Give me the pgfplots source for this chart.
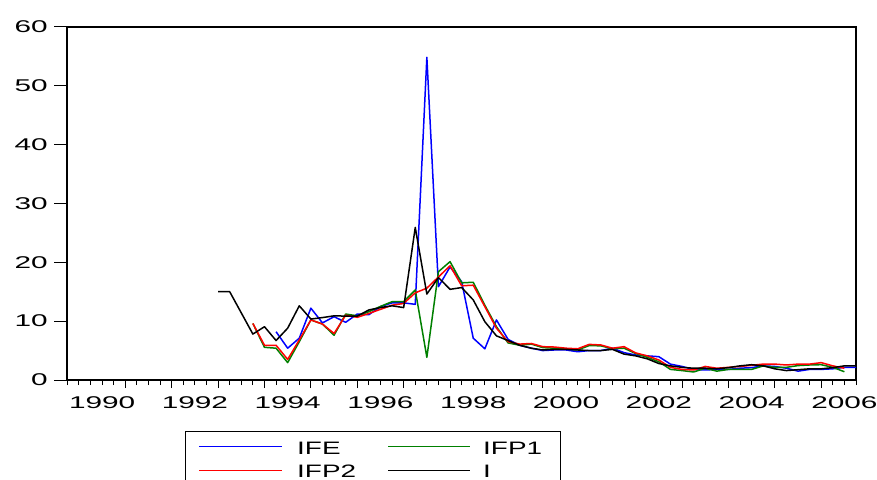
\documentclass[border=0pt]{standalone}
\usepackage{pgfplots}
\pgfplotsset{compat=1.18}
\usepackage{fontspec}
\setmainfont{Liberation Sans}
\usepackage{graphicx}

% EViews stretches its text horizontally
\newcommand{\wide}[1]{\scalebox{1.75}[1]{\fontsize{17}{17}\selectfont #1}}
\newcommand{\lwide}[1]{\scalebox{1.55}[1]{\fontsize{18}{18}\selectfont #1}}

\definecolor{evgreen}{RGB}{0,128,0}

% x = quarter index, 1 = 1990Q1
\pgfplotstableread{
q v
18 8.2
19 5.4
20 7.1
21 12.2
22 9.7
23 10.75
24 9.8
25 11.2
26 11.1
27 12.45
28 13.1
29 13.1
30 12.85
31 54.8
32 15.85
33 19.2
34 16.7
35 7.1
36 5.3
37 10.2
38 6.9
39 5.9
40 5.4
41 5.0
42 5.1
43 5.1
44 4.8
45 5.0
46 5.0
47 5.4
48 4.65
49 4.25
50 4.1
51 3.96
52 2.7
53 2.3
54 1.8
55 1.7
56 1.8
57 1.8
58 2.0
59 2.1
60 2.4
61 2.3
62 2.0
63 1.5
64 1.8
65 1.8
66 1.9
67 2.15
68 2.15
}\ife

\pgfplotstableread{
q v
16 9.6
17 5.55
18 5.4
19 2.95
20 6.5
21 10.2
22 9.5
23 7.6
24 11.2
25 10.9
26 11.6
27 12.5
28 13.3
29 13.3
30 15.3
31 3.85
32 18.4
33 20.1
34 16.5
35 16.6
36 12.7
37 9.05
38 6.3
39 5.9
40 6.1
41 5.5
42 5.4
43 5.3
44 5.1
45 5.85
46 5.8
47 5.3
48 5.4
49 4.5
50 3.85
51 3.1
52 1.8
53 1.6
54 1.36
55 2.0
56 1.5
57 1.8
58 1.8
59 1.8
60 2.4
61 2.15
62 2.15
63 2.45
64 2.55
65 2.6
66 2.15
67 1.4
}\ifpone

\pgfplotstableread{
q v
16 9.6
17 5.9
18 5.9
19 3.5
20 6.8
21 10.2
22 9.5
23 7.9
24 11.0
25 10.65
26 11.3
27 12.0
28 12.7
29 13.0
30 14.8
31 15.6
32 17.5
33 19.4
34 16.0
35 16.1
36 12.45
37 8.8
38 6.5
39 6.1
40 6.2
41 5.66
42 5.6
43 5.4
44 5.3
45 6.05
46 5.95
47 5.4
48 5.66
49 4.6
50 4.1
51 3.4
52 2.15
53 1.8
54 1.7
55 2.3
56 2.0
57 2.15
58 2.3
59 2.5
60 2.7
61 2.7
62 2.55
63 2.7
64 2.7
65 2.95
66 2.4
67 2.0
}\ifptwo

\pgfplotstableread{
q v
13 15.0
14 15.0
15 11.4
16 7.8
17 9.05
18 6.7
19 8.8
20 12.6
21 10.35
22 10.6
23 10.9
24 10.85
25 10.85
26 11.9
27 12.3
28 12.6
29 12.3
30 25.9
31 14.6
32 17.4
33 15.4
34 15.7
35 13.6
36 9.9
37 7.5
38 6.7
39 5.9
40 5.4
41 5.1
42 5.2
43 5.2
44 5.1
45 5.0
46 5.0
47 5.2
48 4.4
49 4.1
50 3.6
51 2.8
52 2.4
53 2.15
54 2.0
55 2.0
56 1.9
57 2.1
58 2.4
59 2.6
60 2.4
61 1.9
62 1.6
63 1.75
64 1.9
65 1.9
66 2.1
67 2.4
68 2.4
}\iser

\begin{document}
\begin{tikzpicture}
\path[use as bounding box] (-67.3pt,-99pt) rectangle (809.7pt,380pt);
% quarterly and yearly tick marks under the frame
\begin{axis}[
    scale only axis,
    width=788.7pt, height=353.3pt,
    xmin=0, xmax=68, ymin=0, ymax=60,
    axis line style={draw=none},
    tick align=outside,
    xtick pos=bottom,
    ytick=\empty,
    major tick length=8pt, minor tick length=5pt,
    tick style={draw=black, line width=0.8pt},
    xtick={5,9,...,65},
    xticklabels={},
    minor xtick={0,...,68},
]
\end{axis}
\begin{axis}[
    scale only axis,
    width=788.7pt, height=353.3pt,
    xmin=0, xmax=68, ymin=0, ymax=60,
    axis line style={line width=1.6pt},
    tick align=outside,
    xtick pos=bottom, ytick pos=left,
    major tick length=13pt,
    ytick style={draw=black, line width=0.8pt},
    xtick={3,11,...,67},
    xticklabels={\wide{1990},\wide{1992},\wide{1994},\wide{1996},\wide{1998},\wide{2000},\wide{2002},\wide{2004},\wide{2006}},
    xtick style={draw=none},
    ytick={0,10,...,60},
    yticklabels={\wide{0},\wide{10},\wide{20},\wide{30},\wide{40},\wide{50},\wide{60}},
    xticklabel style={anchor=north, yshift=0pt},
    yticklabel style={anchor=east, xshift=-3pt},
    every axis plot/.append style={line width=1.5pt, line join=round},
]
\addplot[blue] table[x=q, y=v] {\ife};
\addplot[evgreen] table[x=q, y=v] {\ifpone};
\addplot[red] table[x=q, y=v] {\ifptwo};
\addplot[black] table[x=q, y=v] {\iser};
\end{axis}
% legend box, cut by the lower edge as in the original
\draw[line width=1pt] (117.7pt,-51pt) rectangle (492.7pt,-110pt);
\draw[blue, line width=1pt] (131.7pt,-66.5pt) -- (214.7pt,-66.5pt);
\draw[evgreen, line width=1pt] (320.7pt,-66.5pt) -- (402.7pt,-66.5pt);
\draw[red, line width=1pt] (131.7pt,-90.5pt) -- (214.7pt,-90.5pt);
\draw[black, line width=1pt] (320.7pt,-90.5pt) -- (402.7pt,-90.5pt);
\node[anchor=west, inner sep=0pt] at (229.7pt,-68.3pt) {\lwide{IFE}};
\node[anchor=west, inner sep=0pt] at (415.7pt,-68.3pt) {\lwide{IFP1}};
\node[anchor=west, inner sep=0pt] at (229.7pt,-91.6pt) {\lwide{IFP2}};
\node[anchor=west, inner sep=0pt] at (415.7pt,-91.6pt) {\lwide{I}};
\end{tikzpicture}
\end{document}
